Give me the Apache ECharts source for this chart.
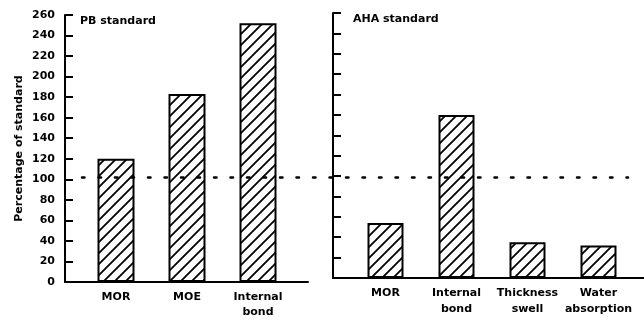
<!DOCTYPE html>
<html>
<head>
<meta charset="utf-8">
<script src="https://cdn.jsdelivr.net/npm/echarts@6/dist/echarts.min.js"></script>
<style>
html,body{margin:0;padding:0;background:#fff;}
#c{width:644px;height:320px;}
</style>
</head>
<body>
<div id="c"></div>
<script>
// ---- data ----
var pbCategories = ['MOR', 'MOE', 'Internal\nbond'];
var pbValues = [120, 183, 252];
var ahaCategories = ['MOR', 'Internal\nbond', 'Thickness\nswell', 'Water\nabsorption'];
var ahaValues = [54, 160, 35, 32];
var standardLevel = 100;
var yMin = 0, yMax = 260, yStep = 20;
var panelTitles = ['PB standard', 'AHA standard'];
var yAxisTitle = 'Percentage of standard';

// ---- hatch pattern ----
function hatch() {
  var s = 11;
  var cv = document.createElement('canvas');
  cv.width = s; cv.height = s;
  var ctx = cv.getContext('2d');
  ctx.fillStyle = '#fff';
  ctx.fillRect(0, 0, s, s);
  ctx.strokeStyle = '#000';
  ctx.lineWidth = 1.8;
  ctx.beginPath();
  ctx.moveTo(-2, s + 2); ctx.lineTo(s + 2, -2);
  ctx.moveTo(-2, 2); ctx.lineTo(2, -2);
  ctx.moveTo(s - 2, s + 2); ctx.lineTo(s + 2, s - 2);
  ctx.stroke();
  return { image: cv, repeat: 'repeat' };
}
var pattern = hatch();

var FONT = 'DejaVu Sans';
var txt = { fontFamily: FONT, fontWeight: 'bold', color: '#000' };

var chart = echarts.init(document.getElementById('c'), null, { renderer: 'canvas' });

function frameY(showLabels, name) {
  return {
    type: 'value', min: yMin, max: yMax, interval: yStep,
    splitLine: { show: false },
    axisLine: { show: true, lineStyle: { color: '#000', width: 2 } },
    axisTick: { show: true, inside: true, length: 8, lineStyle: { color: '#000', width: 2 } },
    axisLabel: { show: showLabels, margin: 10, fontFamily: FONT, fontWeight: 'bold', fontSize: 11, color: '#000' },
    name: name || '',
    nameLocation: 'middle',
    nameRotate: 90,
    nameGap: 40,
    nameTextStyle: { fontFamily: FONT, fontWeight: 'bold', fontSize: 11, color: '#000' }
  };
}
function hiddenY() {
  return { type: 'value', min: yMin, max: yMax, interval: yStep, show: false, splitLine: { show: false } };
}
function frameX() {
  return {
    type: 'category', data: [''],
    axisLine: { show: true, lineStyle: { color: '#000', width: 2 } },
    axisTick: { show: false }, axisLabel: { show: false }, splitLine: { show: false }
  };
}
function barX(cats, lh) {
  return {
    type: 'category', data: cats,
    axisLine: { show: false }, axisTick: { show: false },
    axisLabel: { interval: 0, hideOverlap: false, margin: 7, fontFamily: FONT, fontWeight: 'bold', fontSize: 11, lineHeight: lh, color: '#000' }
  };
}
function g(o) { o.outerBoundsMode = 'none'; o.containLabel = false; return o; }

var option = {
  animation: false,
  backgroundColor: '#fff',
  title: [
    { text: panelTitles[0], left: 75, top: 11, textStyle: Object.assign({ fontSize: 11 }, txt) },
    { text: panelTitles[1], left: 348, top: 9, textStyle: Object.assign({ fontSize: 11 }, txt) }
  ],
  grid: [
    g({ left: 65, top: 15, width: 243, height: 267 }),
    g({ left: 80.5, top: 15, width: 213, height: 267 }),
    g({ left: 333, top: 13, width: 311, height: 265 }),
    g({ left: 350, top: 13, width: 284, height: 265 }),
    g({ left: 82, top: 14, width: 546, height: 266 })
  ],
  xAxis: [
    Object.assign(frameX(), { gridIndex: 0 }),
    Object.assign(barX(pbCategories, 15.5), { gridIndex: 1 }),
    Object.assign(frameX(), { gridIndex: 2 }),
    Object.assign(barX(ahaCategories, 16), { gridIndex: 3 }),
    { gridIndex: 4, type: 'value', min: 0, max: 1, show: false, splitLine: { show: false } }
  ],
  yAxis: [
    Object.assign(frameY(true, yAxisTitle), { gridIndex: 0 }),
    Object.assign(hiddenY(), { gridIndex: 1 }),
    Object.assign(frameY(false), { gridIndex: 2 }),
    Object.assign(hiddenY(), { gridIndex: 3 }),
    Object.assign(hiddenY(), { gridIndex: 4 })
  ],
  series: [
    {
      type: 'bar', xAxisIndex: 1, yAxisIndex: 1, data: pbValues, barWidth: 37,
      itemStyle: { color: pattern, borderColor: '#000', borderWidth: 2 }, silent: true
    },
    {
      type: 'bar', xAxisIndex: 3, yAxisIndex: 3, data: ahaValues, barWidth: 36,
      itemStyle: { color: pattern, borderColor: '#000', borderWidth: 2 }, silent: true
    },
    {
      type: 'line', xAxisIndex: 4, yAxisIndex: 4, data: [], silent: true,
      markLine: {
        silent: true, symbol: 'none', label: { show: false },
        lineStyle: { color: '#000', width: 2.5, type: [2.5, 14], cap: 'round' },
        data: [{ yAxis: standardLevel }]
      }
    }
  ]
};
chart.setOption(option);
</script>
</body>
</html>
